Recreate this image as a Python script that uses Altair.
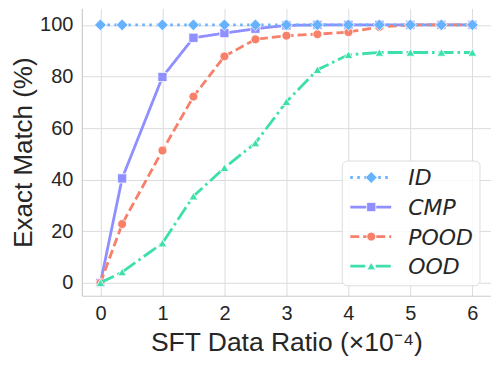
import altair as alt
import pandas as pd

# ---- data ----
ratios = [0, 0.35, 1, 1.5, 2, 2.5, 3, 3.5, 4, 4.5, 5, 5.5, 6]
series_names = ["ID", "CMP", "POOD", "OOD"]
id_vals = [100, 100, 100, 100, 100, 100, 100, 100, 100, 100, 100, 100, 100]
cmp_vals = [0, 40.5, 79.8, 95.0, 96.8, 98.5, 99.8, 100, 100, 100, 100, 100, 100]
pood_vals = [0, 22.8, 51.3, 72.2, 87.8, 94.4, 95.8, 96.4, 97.2, 99.2, 100, 100, 100]
ood_vals = [0, 4.2, 15.4, 33.6, 44.6, 54.2, 70.2, 82.6, 88.4, 89.3, 89.3, 89.3, 89.3]
x_ticks = [0, 1, 2, 3, 4, 5, 6]
y_ticks = [0, 20, 40, 60, 80, 100]

values = {"ID": id_vals, "CMP": cmp_vals, "POOD": pood_vals, "OOD": ood_vals}
rows = []
for name in series_names:
    for x, v in zip(ratios, values[name]):
        rows.append({"series": name, "ratio": x, "value": v})
df = pd.DataFrame(rows)

colors = {"ID": "#66b2ff", "CMP": "#8f8fff", "POOD": "#f6806a", "OOD": "#3ddfac"}
dashes = {"ID": [2.5, 4.5], "CMP": [1, 0], "POOD": [9, 4], "OOD": [15, 4, 2.5, 4]}
shapes = {"ID": "diamond", "CMP": "square", "POOD": "circle", "OOD": "triangle-up"}
msize = {"ID": 140, "CMP": 85, "POOD": 80, "OOD": 75}

W, H = 410, 288
xscale = alt.Scale(domain=[-0.3, 6.3], nice=False, zero=False)
yscale = alt.Scale(domain=[-5, 106.4], nice=False, zero=False)

xaxis = alt.Axis(values=x_ticks, title="SFT Data Ratio (×10⁻⁴)", format="d",
                 labelFontSize=20, titleFontSize=26.5, labelPadding=8, titlePadding=6,
                 tickSize=0, grid=True, labelFont="Liberation Sans", titleFont="Liberation Sans",
                 labelColor="#262626", titleColor="#262626", titleFontWeight="normal")
yaxis = alt.Axis(values=y_ticks, title="Exact Match (%)",
                 labelFontSize=20, titleFontSize=26, labelPadding=9, titlePadding=3,
                 tickSize=0, grid=True, labelFont="Liberation Sans", titleFont="Liberation Sans",
                 labelColor="#262626", titleColor="#262626", titleFontWeight="normal")

enc_x = alt.X("ratio:Q", scale=xscale, axis=xaxis)
enc_y = alt.Y("value:Q", scale=yscale, axis=yaxis)

base = alt.Chart(df)
draw_order = ["CMP", "POOD", "OOD", "ID"]
layers = []
for name in draw_order:
    sub = base.transform_filter(alt.datum.series == name)
    line = sub.mark_line(color=colors[name], strokeWidth=2.8, strokeDash=dashes[name]).encode(
        x=enc_x, y=enc_y)
    pts = sub.mark_point(shape=shapes[name], filled=True, fill=colors[name], stroke="white",
                         strokeWidth=0.8, size=msize[name], opacity=1).encode(x=enc_x, y=enc_y)
    layers += [line, pts]

# ---- legend (drawn manually to match line+marker symbols) ----
leg_df = pd.DataFrame({"series": series_names})
lbase = alt.Chart(leg_df)
box = lbase.transform_filter(alt.datum.series == "ID").mark_rect(
    fill="white", fillOpacity=0.85, stroke="#dddddd", strokeWidth=1, cornerRadius=5).encode(
    x=alt.value(261), x2=alt.value(399), y=alt.value(153), y2=alt.value(278))
layers.append(box)
for i, name in enumerate(series_names):
    yy = 169.5 + i * 29.6
    sub = lbase.transform_filter(alt.datum.series == name)
    layers.append(sub.mark_rule(color=colors[name], strokeWidth=2.8, strokeDash=dashes[name]).encode(
        x=alt.value(269), x2=alt.value(310), y=alt.value(yy)))
    layers.append(sub.mark_point(shape=shapes[name], filled=True, fill=colors[name], stroke="white",
                                 strokeWidth=0.8, size=msize[name], opacity=1).encode(
        x=alt.value(290), y=alt.value(yy)))
    layers.append(sub.mark_text(align="left", baseline="middle", fontSize=22, fontStyle="italic",
                                font="DejaVu Sans", color="#262626").encode(
        x=alt.value(327), y=alt.value(yy + 1), text="series:N"))

chart = alt.layer(*layers).properties(
    width=W, height=H,
    autosize=alt.AutoSizeParams(type="none"),
    padding={"left": 74, "top": 0, "right": 0, "bottom": 66},
).configure_view(stroke=None).configure_axis(
    gridColor="#dcdcdc", gridWidth=1, domainColor="#cccccc", domainWidth=1.2
)

chart.save("out.html", embed_options={"renderer": "svg", "actions": False})
